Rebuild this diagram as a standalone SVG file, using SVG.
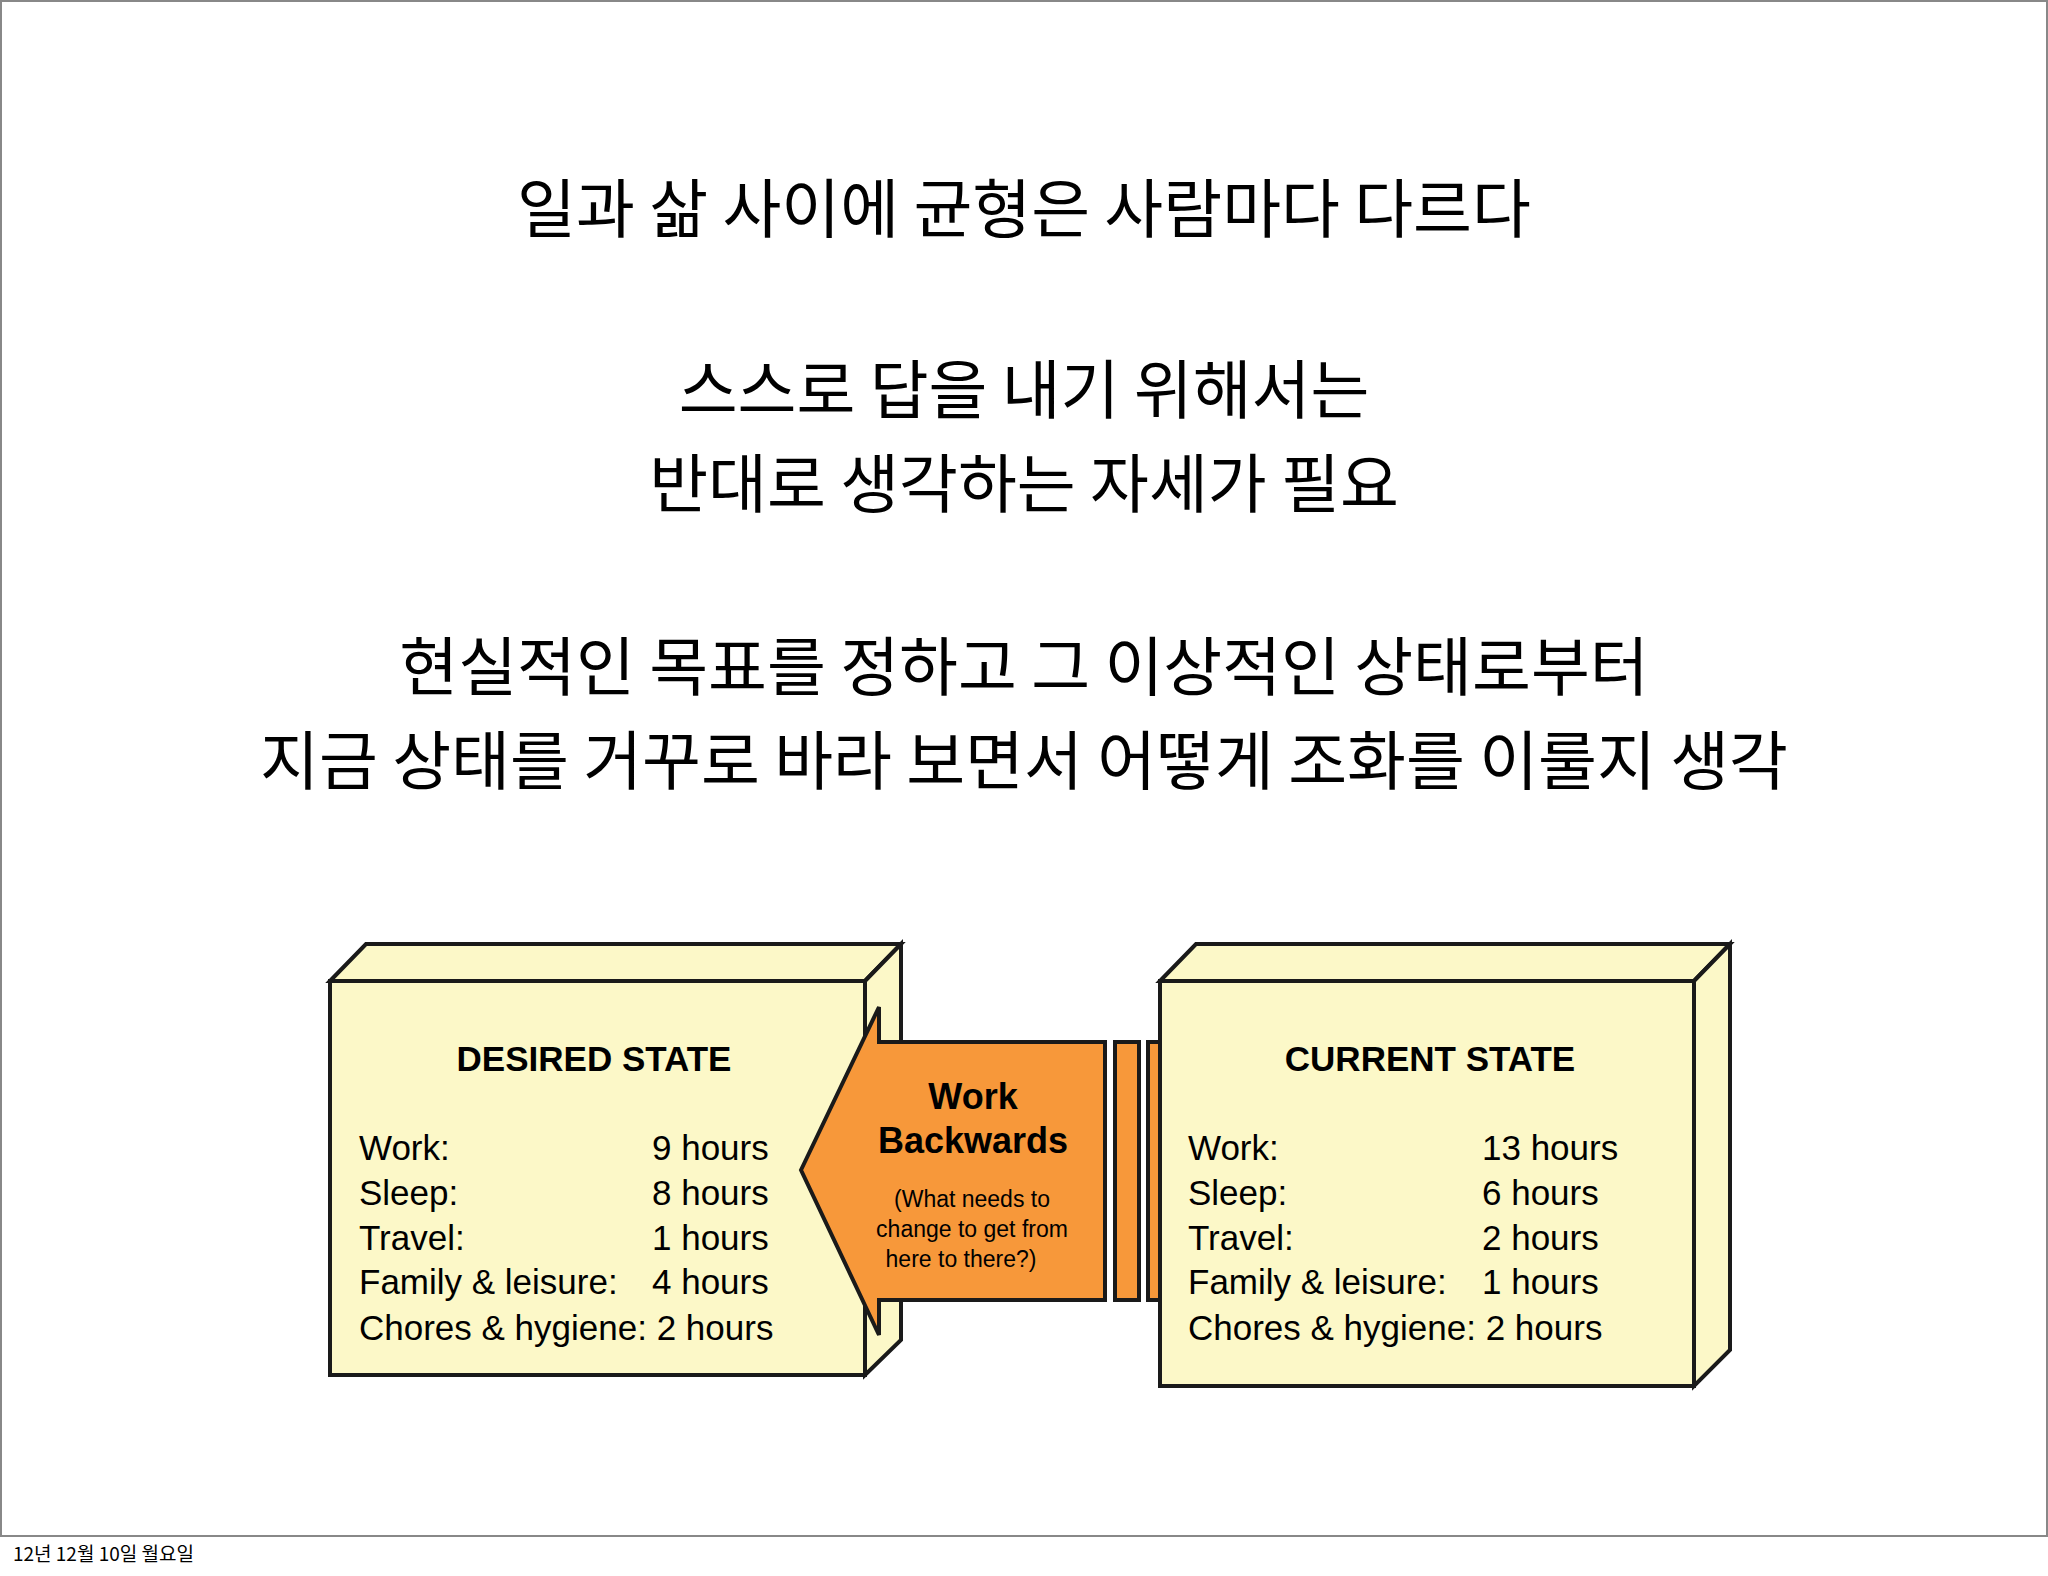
<svg xmlns="http://www.w3.org/2000/svg" width="2048" height="1576" viewBox="0 0 2048 1576">
<style>
.k{font-family:"Noto Sans CJK KR","Noto Sans",sans-serif;font-size:64px;fill:#000;text-anchor:middle}
.box{fill:#FCF8C8;stroke:#1a1a1a;stroke-width:4;stroke-linejoin:miter}
.h{font-family:"Liberation Sans",Arial,sans-serif;font-weight:bold;font-size:35px;text-anchor:middle}
.r{font-family:"Liberation Sans",Arial,sans-serif;font-size:35px}
.ar{fill:#F7983A;stroke:#1a1a1a;stroke-width:4}
</style>
<rect x="0" y="0" width="2048" height="1576" fill="#fff"/>
<rect x="1" y="1" width="2046" height="1535" fill="none" stroke="#888" stroke-width="2"/>
<g id="title">
<text class="k" x="1024" y="232">일과 삶 사이에 균형은 사람마다 다르다</text>
<text class="k" x="1024" y="413">스스로 답을 내기 위해서는</text>
<text class="k" x="1024" y="507">반대로 생각하는 자세가 필요</text>
<text class="k" x="1024" y="690">현실적인 목표를 정하고 그 이상적인 상태로부터</text>
<text class="k" x="1024" y="784">지금 상태를 거꾸로 바라 보면서 어떻게 조화를 이룰지 생각</text>
</g>
<g id="desired">
<polygon class="box" points="330,981 366,944 901,944 865,981"/>
<polygon class="box" points="865,981 901,944 901,1340 865,1375"/>
<rect class="box" x="330" y="981" width="535" height="394"/>
<text class="h" x="594" y="1071">DESIRED STATE</text>
<text class="r" x="359" y="1160">Work:</text><text class="r" x="652" y="1160">9 hours</text>
<text class="r" x="359" y="1205">Sleep:</text><text class="r" x="652" y="1205">8 hours</text>
<text class="r" x="359" y="1250">Travel:</text><text class="r" x="652" y="1250">1 hours</text>
<text class="r" x="359" y="1294">Family &amp; leisure:</text><text class="r" x="652" y="1294">4 hours</text>
<text class="r" x="359" y="1340">Chores &amp; hygiene: 2 hours</text>
</g>
<g id="connectors">
<polygon class="ar" points="801,1170 879,1007 879,1042 1105,1042 1105,1300 879,1300 879,1335"/>
<rect class="ar" x="1115" y="1042" width="24" height="258"/>
<rect class="ar" x="1148" y="1042" width="24" height="258"/>
<text class="h" x="973" y="1109" style="font-size:36px">Work</text>
<text class="h" x="973" y="1153" style="font-size:36px">Backwards</text>
<text class="r" x="972" y="1207" text-anchor="middle" style="font-size:23px;text-anchor:middle">(What needs to</text>
<text class="r" x="972" y="1237" style="font-size:23px;text-anchor:middle">change to get from</text>
<text class="r" x="961" y="1267" style="font-size:23px;text-anchor:middle">here to there?)</text>
</g>
<g id="current">
<polygon class="box" points="1160,981 1196,944 1730,944 1694,981"/>
<polygon class="box" points="1694,981 1730,944 1730,1350 1694,1386"/>
<rect class="box" x="1160" y="981" width="534" height="405"/>
<text class="h" x="1430" y="1071">CURRENT STATE</text>
<text class="r" x="1188" y="1160">Work:</text><text class="r" x="1482" y="1160">13 hours</text>
<text class="r" x="1188" y="1205">Sleep:</text><text class="r" x="1482" y="1205">6 hours</text>
<text class="r" x="1188" y="1250">Travel:</text><text class="r" x="1482" y="1250">2 hours</text>
<text class="r" x="1188" y="1294">Family &amp; leisure:</text><text class="r" x="1482" y="1294">1 hours</text>
<text class="r" x="1188" y="1340">Chores &amp; hygiene: 2 hours</text>
</g>
<text x="13" y="1561" style="font-family:'Noto Sans CJK KR','Noto Sans',sans-serif;font-size:19px">12년 12월 10일 월요일</text>
</svg>
